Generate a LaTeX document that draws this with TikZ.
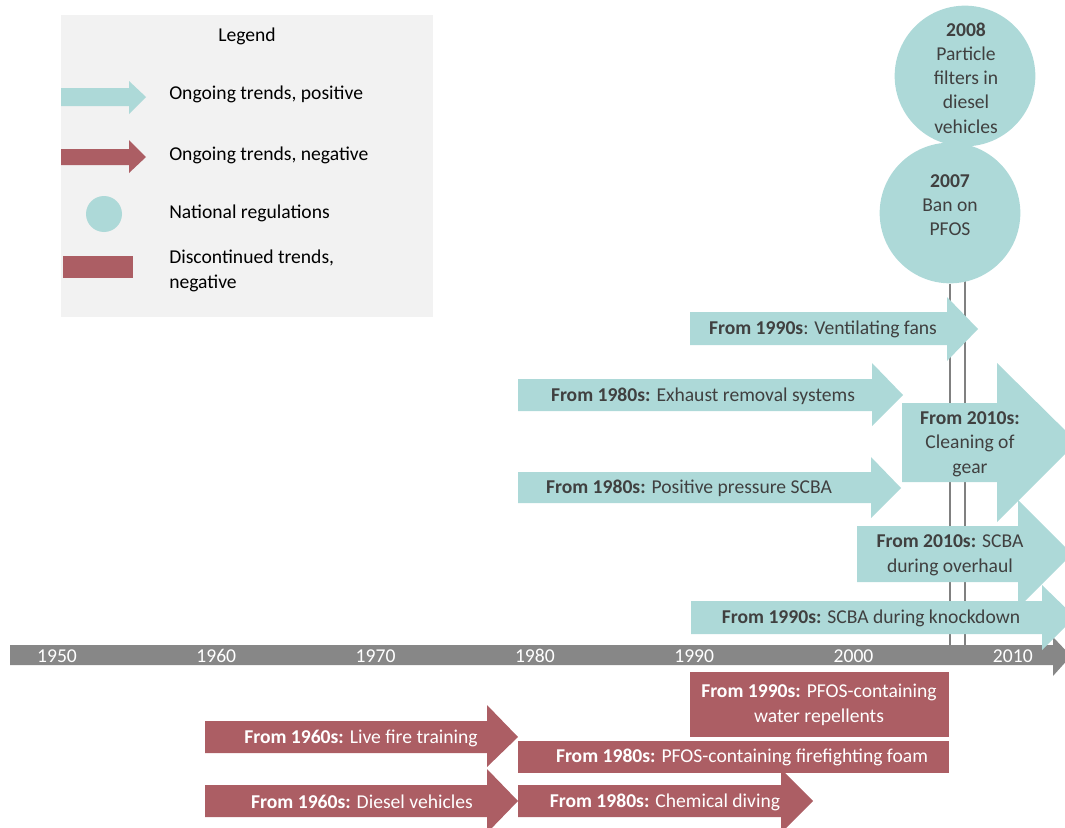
\documentclass[tikz,border=0pt]{standalone}
\usepackage{fontspec}
\setmainfont{Carlito}
\usetikzlibrary{positioning}
\definecolor{trendblue}{RGB}{173,217,216}
\definecolor{trendred}{RGB}{172,94,100}
\definecolor{axisgray}{RGB}{135,135,135}
\definecolor{legendbg}{RGB}{242,242,242}
\definecolor{labeltext}{RGB}{64,64,64}

\begin{document}
\begin{tikzpicture}[x=0.75pt,y=-0.75pt,
  every node/.style={font=\fontsize{14.7}{18.4}\selectfont,inner sep=0pt},
  postext/.style={text=labeltext,align=center},
  negtext/.style={text=white,align=center},
  postrend/.style={fill=trendblue},
  negtrend/.style={fill=trendred},
  yearlabel/.style={text=white},
  regcircle/.style={circle,fill=trendblue,minimum size=105.5pt},
  regline/.style={draw=gray,line width=1.5pt}]
  \useasboundingbox (0,0) rectangle (1065,828);
  \clip (0,0) rectangle (1065,828);

  % legend
  \fill[legendbg] (61,15) rectangle (433,317);
  \node (leghead) at (247,36) {Legend};
  \fill[postrend] (61,88) -- (129,88) -- (129,81) -- (146,97) -- (129,114) -- (129,106) -- (61,106) -- cycle;
  \fill[negtrend] (61,149) -- (129,149) -- (129,140) -- (146,157) -- (129,173) -- (129,165) -- (61,165) -- cycle;
  \node[circle,fill=trendblue,minimum size=27pt] (legcirc) at (104,214) {};
  \fill[negtrend] (63,256) rectangle (133,278);
  \node[anchor=west] (legpos) at (169,94) {Ongoing trends, positive};
  \node[anchor=west] (legneg) at (169,155) {Ongoing trends, negative};
  \node[anchor=west] (legreg) at (169,213) {National regulations};
  \node[anchor=west,align=left,font=\fontsize{14.7}{18.8}\selectfont] (legdis) at (169,271) {Discontinued trends,\\negative};

  % regulations and time axis
  \coordinate (axmid) at (0,655);
  \node[regcircle] (c2008) at (965,76) {};
  \draw[regline] (c2008.south) -- (c2008.south |- axmid);
  \node[regcircle] (c2007) at (950,213) {};
  \draw[regline] (c2007.south) -- (c2007.south |- axmid);
  \node[postext,font=\fontsize{14.7}{18.2}\selectfont] (t2008) at (966,78) {\textbf{2008}\\Particle\\filters in\\diesel\\vehicles};
  \node[postext,font=\fontsize{14.7}{18.2}\selectfont] (t2007) at (950,205) {\textbf{2007}\\Ban on\\PFOS};
  \fill[axisgray] (10,645) -- (1053,645) -- (1053,637) -- (1071,656) -- (1053,676) -- (1053,665) -- (10,665) -- cycle;
  \foreach \yr [count=\i from 0] in {1950,1960,...,2010} {
    \node[yearlabel] (y\yr) at (57+\i*159.3,656) {\yr};
  }

  % ongoing trends, positive
  \fill[postrend] (690,312) -- (947,312) -- (947,297) -- (978,329) -- (947,361) -- (947,345) -- (690,345) -- cycle;
  \fill[postrend] (518,379) -- (872,379) -- (872,363) -- (903,395) -- (872,426) -- (872,411) -- (518,411) -- cycle;
  \fill[postrend] (518,472) -- (871,472) -- (871,457) -- (901,488) -- (871,518) -- (871,503) -- (518,503) -- cycle;
  \fill[postrend] (902,403) -- (997,403) -- (997,363) -- (1077,442) -- (997,522) -- (997,482) -- (902,482) -- cycle;
  \fill[postrend] (857,526) -- (1018,526) -- (1018,500) -- (1072,554) -- (1018,608) -- (1018,582) -- (857,582) -- cycle;
  \fill[postrend] (691,601) -- (1042,601) -- (1042,585) -- (1075,617) -- (1042,650) -- (1042,634) -- (691,634) -- cycle;
  \node[postext] (vent) at (823,329) {\textbf{From 1990s}: Ventilating fans};
  \node[postext] (exhaust) at (703,396) {\textbf{From 1980s:} Exhaust removal systems};
  \node[postext] (scba) at (689,488) {\textbf{From 1980s:} Positive pressure SCBA};
  \node[postext] (gear) at (970,444) {\textbf{From 2010s:}\\Cleaning of\\gear};
  \node[postext] (overhaul) at (950,555) {\textbf{From 2010s:} SCBA\\during overhaul};
  \node[postext] (knock) at (871,618) {\textbf{From 1990s:} SCBA during knockdown};

  % trends, negative
  \fill[negtrend] (690,672) rectangle (949,737);
  \fill[negtrend] (518,741) rectangle (949,773);
  \fill[negtrend] (205,721) -- (487,721) -- (487,705) -- (518,737) -- (487,767) -- (487,753) -- (205,753) -- cycle;
  \fill[negtrend] (205,785) -- (487,785) -- (487,769) -- (518,801) -- (487,833) -- (487,817) -- (205,817) -- cycle;
  \fill[negtrend] (518,785) -- (781,785) -- (781,769) -- (813,801) -- (781,833) -- (781,817) -- (518,817) -- cycle;
  \node[negtext,font=\fontsize{14.7}{18.8}\selectfont] (repel) at (819,705) {\textbf{From 1990s:} PFOS-containing\\water repellents};
  \node[negtext] (foam) at (742,757) {\textbf{From 1980s:} PFOS-containing firefighting foam};
  \node[negtext] (livefire) at (361,738) {\textbf{From 1960s:} Live fire training};
  \node[negtext] (diesel) at (362,802) {\textbf{From 1960s:} Diesel vehicles};
  \node[negtext] (diving) at (665,802) {\textbf{From 1980s:} Chemical diving};
\end{tikzpicture}
\end{document}
